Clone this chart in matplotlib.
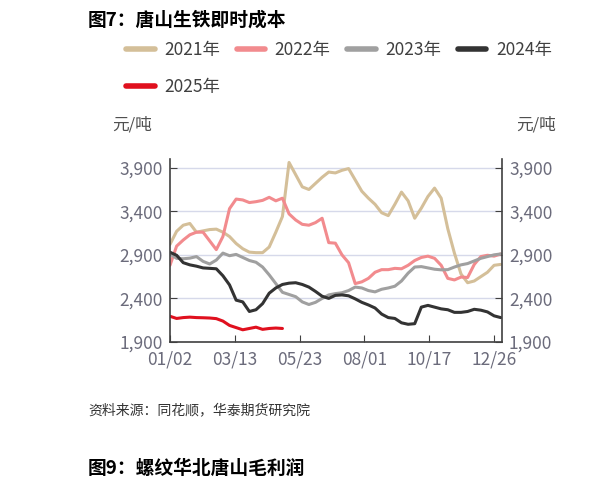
import matplotlib
matplotlib.use("Agg")
import matplotlib.pyplot as plt
import numpy as np

plt.rcParams['font.family'] = ['Noto Sans CJK SC', 'DejaVu Sans']

# values read every 5 trading days
y2021 = [3020, 3170, 3240, 3260, 3160, 3175, 3190, 3195, 3160, 3110,
         3030, 2970, 2931, 2925, 2925, 2990, 3160, 3340, 3960, 3820,
         3680, 3650, 3720, 3790, 3850, 3840, 3870, 3890, 3760, 3630,
         3550, 3480, 3383, 3350, 3480, 3620, 3520, 3320, 3436, 3570,
         3666, 3550, 3200, 2920, 2680, 2580, 2600, 2650, 2700, 2780, 2790]
y2022 = [2780, 3000, 3070, 3130, 3160, 3160, 3060, 2960, 3110, 3430,
         3540, 3530, 3500, 3510, 3525, 3560, 3520, 3550, 3370, 3300,
         3250, 3240, 3270, 3320, 3040, 3034, 2900, 2810, 2570, 2590,
         2630, 2700, 2730, 2730, 2745, 2740, 2780, 2835, 2870, 2885,
         2860, 2780, 2630, 2612, 2645, 2640, 2790, 2880, 2895, 2885, 2910]
y2023 = [2910, 2860, 2855, 2862, 2880, 2825, 2795, 2840, 2920, 2890,
         2905, 2870, 2835, 2815, 2760, 2670, 2570, 2470, 2445, 2420,
         2360, 2330, 2355, 2400, 2440, 2455, 2465, 2490, 2530, 2520,
         2490, 2475, 2505, 2520, 2540, 2600, 2690, 2760, 2765, 2750,
         2735, 2728, 2730, 2760, 2785, 2800, 2830, 2860, 2880, 2900, 2910]
y2024 = [2930, 2895, 2810, 2785, 2770, 2750, 2745, 2740, 2660, 2555,
         2380, 2360, 2250, 2270, 2340, 2460, 2520, 2560, 2575, 2580,
         2560, 2530, 2480, 2425, 2400, 2435, 2440, 2430, 2395, 2355,
         2325, 2290, 2220, 2180, 2170, 2120, 2103, 2110, 2300, 2320,
         2300, 2280, 2270, 2240, 2240, 2250, 2275, 2265, 2245, 2200, 2180]
y2025 = [2195, 2170, 2180, 2185, 2180, 2178, 2175, 2168, 2140, 2090,
         2065, 2040, 2055, 2070, 2045, 2055, 2060, 2055]

series = [("2021年", y2021, "#d4bf99"),
          ("2022年", y2022, "#f28b8e"),
          ("2023年", y2023, "#a0a0a0"),
          ("2024年", y2024, "#333333"),
          ("2025年", y2025, "#e0101e")]

xtick_labels = ["01/02", "03/13", "05/23", "08/01", "10/17", "12/26"]
yticks = [1900, 2400, 2900, 3400, 3900]

fig = plt.figure(figsize=(5.99, 4.91), dpi=100)
ax = fig.add_axes([0.2838, 0.3035, 0.5543, 0.3727])

handles = {}
for name, vals, col in series:
    x = np.arange(len(vals)) * 5
    ln, = ax.plot(x, vals, color=col, lw=2.2, solid_capstyle='round')
    handles[name] = ln

ax.set_xlim(0, 251)
ax.set_ylim(1900, 4000)
ax.set_xticks([0, 49, 98, 147, 196, 245])
ax.set_xticklabels(xtick_labels)
ax.set_yticks(yticks)
ax.set_yticklabels([f"{v:,}" for v in yticks])
ax.grid(axis='y', color='#d6d9ea', lw=1)
ax.set_axisbelow(True)
for s in ['left', 'bottom', 'right']:
    ax.spines[s].set_color('#404040')
    ax.spines[s].set_linewidth(1.2)
ax.spines['top'].set_visible(False)
ax.tick_params(axis='both', direction='in', length=5, color='#404040',
               labelsize=12.5, labelcolor='#6b6b7b')
ax.tick_params(axis='y', right=True, labelright=True, pad=5)
ax.tick_params(axis='x', pad=6)

order = ["2021年", "2025年", "2022年", "2023年", "2024年"]
fig.legend([handles[n] for n in order], order, ncol=4, frameon=False,
           loc='upper left', bbox_to_anchor=(0.19, 0.942), fontsize=12.5,
           handlelength=1.65, handletextpad=0.55, columnspacing=0.95,
           labelspacing=1.1, labelcolor='#404040', borderpad=0.2)
for lh in fig.legends[0].get_lines():
    lh.set_linewidth(4)

fig.text(0.147, 0.958, "图7：唐山生铁即时成本", fontsize=13.5, fontweight='bold',
         color='black', va='center')
fig.text(0.187, 0.745, "元/吨", fontsize=12, color='#505050', va='center')
fig.text(0.862, 0.745, "元/吨", fontsize=12, color='#505050', va='center')
fig.text(0.147, 0.165, "资料来源：同花顺，华泰期货研究院", fontsize=10,
         color='#333333', va='center', style='italic')
fig.text(0.147, 0.047, "图9：螺纹华北唐山毛利润", fontsize=13.5,
         fontweight='bold', color='black', va='center')

fig.savefig("out.png", dpi=100)
